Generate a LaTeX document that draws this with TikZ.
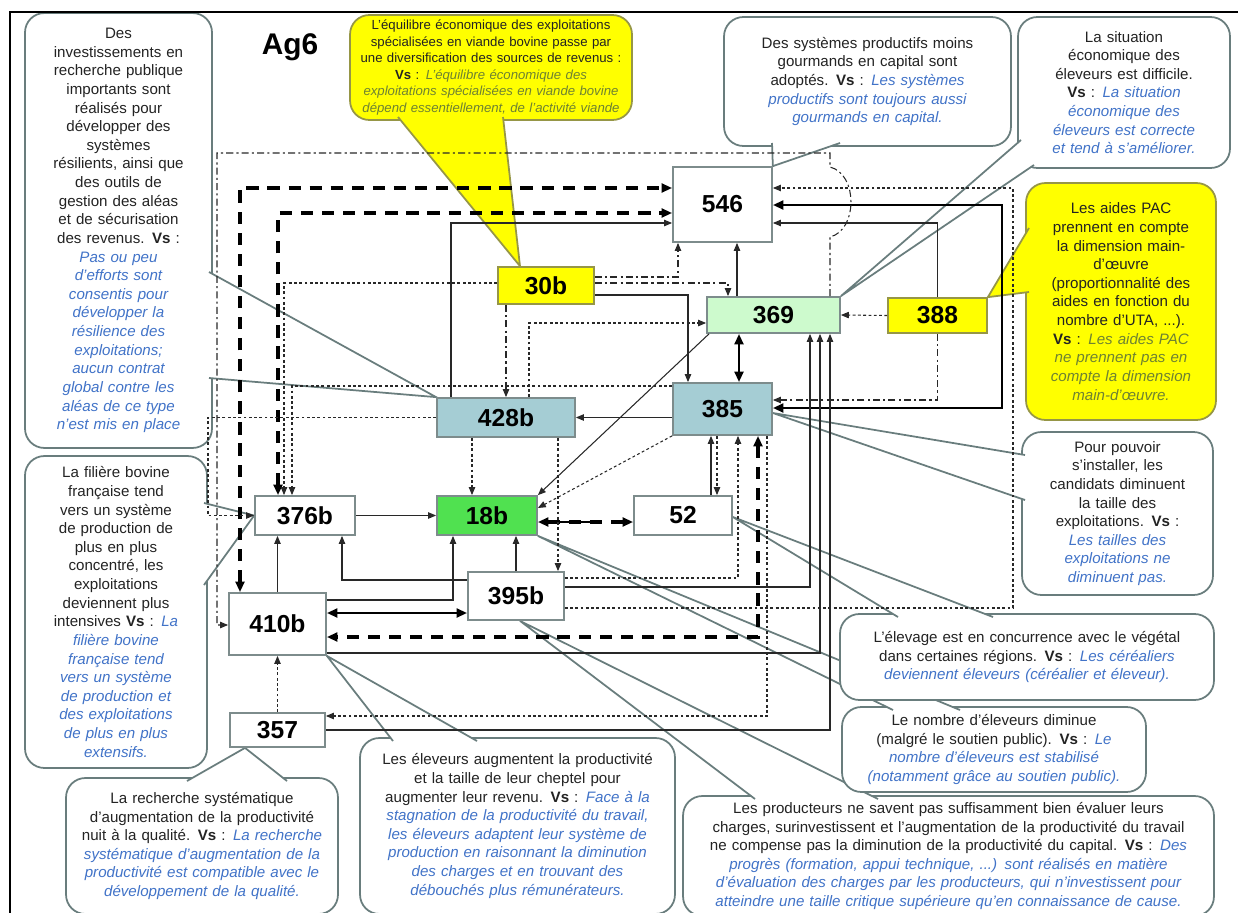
\documentclass[tikz,border=0pt]{standalone}
\usepackage{fontspec}
\setmainfont{Liberation Sans}
\usetikzlibrary{arrows.meta}
\pgfdeclarelayer{bg}
\pgfsetlayers{bg,main}

\definecolor{boxline}{RGB}{125,140,140}
\definecolor{calloutline}{RGB}{105,125,125}
\definecolor{txtgray}{RGB}{35,35,35}
\definecolor{vsblue}{RGB}{65,115,200}
\definecolor{vsolive}{RGB}{110,130,50}
\definecolor{yel}{RGB}{255,255,0}
\definecolor{yeledge}{RGB}{150,150,70}
\definecolor{lightgreen}{RGB}{205,250,205}
\definecolor{bluegray}{RGB}{165,205,212}
\definecolor{brightgreen}{RGB}{80,225,80}
\definecolor{linegray}{RGB}{40,40,40}

\newcommand\vs[1]{{\itshape\color{vsblue}#1}}
\newcommand\vsy[1]{{\itshape\color{vsolive}#1}}

\begin{document}
\begin{tikzpicture}[x=0.02cm, y=-0.02cm,
    var/.style={draw=boxline, line width=1pt, fill=white, text=black, inner sep=0pt,
        font=\fontsize{14}{16}\selectfont\bfseries},
    callout/.style={draw=calloutline, line width=1pt, fill=white, rounded corners=11pt,
        align=center, inner sep=0pt, text=txtgray, font=\fontsize{8.6}{10.6}\selectfont},
    ycallout/.style={callout, fill=yel, draw=yeledge},
    wedge/.style={draw=calloutline, line width=1pt, fill=white},
    ywedge/.style={wedge, fill=yel, draw=yeledge},
    >={Triangle[length=4.5pt,width=3.6pt]},
    link/.style={draw=linegray, line width=0.6pt, ->},
    dotlink/.style={link, dash pattern=on 1.6pt off 1.4pt},
    dashdot/.style={link, dash pattern=on 4pt off 1.8pt on 1.2pt off 1.8pt},
    boldlink/.style={draw=black, line width=1.5pt,
        {Triangle[length=6pt,width=5pt]}-{Triangle[length=6pt,width=5pt]}},
    bolddash/.style={boldlink, line width=2pt, dash pattern=on 7pt off 5pt},
]
\useasboundingbox (0,0) rectangle (1238,913);

%% frame and title
\draw[black, line width=1.2pt] (10,913) -- (10,12) -- (1238,12);
\node[font=\fontsize{17}{20}\selectfont\bfseries] (title) at (290,47) {Ag6};

%% variables
\node[var, minimum width=1.98cm, minimum height=1.5cm] (n546) at (722.5,204.5) {546};
\node[var, fill=yel, draw=yeledge, minimum width=1.92cm, minimum height=0.74cm] (n30b) at (546,285.5) {30b};
\node[var, fill=lightgreen, minimum width=2.66cm, minimum height=0.72cm] (n369) at (773.5,315) {369};
\node[var, fill=yel, draw=yeledge, minimum width=1.98cm, minimum height=0.7cm] (n388) at (937.5,315.5) {388};
\node[var, fill=bluegray, minimum width=2.76cm, minimum height=0.78cm] (n428b) at (506,417.5) {428b};
\node[var, fill=bluegray, minimum width=1.98cm, minimum height=1.04cm] (n385) at (722.5,409) {385};
\node[var, minimum width=2cm, minimum height=0.78cm] (n376b) at (305,515.5) {376b};
\node[var, fill=brightgreen, minimum width=2cm, minimum height=0.78cm] (n18b) at (487,515.5) {18b};
\node[var, minimum width=1.96cm, minimum height=0.78cm] (n52) at (683,515.5) {52};
\node[var, minimum width=1.92cm, minimum height=0.96cm] (n395b) at (516,596) {395b};
\node[var, minimum width=1.94cm, minimum height=1.24cm] (n410b) at (277.5,624) {410b};
\node[var, minimum width=1.9cm, minimum height=0.68cm] (n357) at (277.5,730) {357};

%% strong links
\draw[bolddash] (n410b.north -| 240,0) -- (240,188) -- (n546.west |- 0,188);
\draw[bolddash] (n376b.north -| 278,0) -- (278,213) -- (n546.west |- 0,213);
\draw[bolddash] (n385.south -| 758,0) -- (758,637) -- (n410b.east |- 0,637);
\draw[bolddash] (n18b.east |- 0,522) -- (n52.west |- 0,522);
\draw[black, line width=1.5pt] (545,522) -- (590,522);
\draw[boldlink] (n410b.east |- 0,613) -- (n395b.west |- 0,613);
\draw[boldlink] (n369.south -| 739,0) -- (n385.north -| 739,0);
\draw[boldlink] (n546.east |- 0,205) -- (1002,205) -- (1002,408) -- (n385.east |- 0,408);

%% plain links
\draw[link] (n428b.north -| 451,0) -- (451,223) -- (n546.west |- 0,223);
\draw[link] (n30b.east |- 0,295) -- (688,295) -- (n385.north -| 688,0);
\draw[link] (n369.north -| 737,0) -- (n546.south -| 737,0);
\draw[link] (n388.north) -- (n388.north |- 0,223) -- (n546.east |- 0,223);
\draw[link] (n385.west |- 0,417.5) -- (n428b.east);
\draw[link] (n369.south -| 709,0) -- (n18b.north east);
\draw[link] (n376b.east) -- (n18b.west);
\draw[link] (n52.north -| 711,0) -- (n385.south -| 711,0);
\draw[link] (n395b.north) -- (n18b.south -| n395b.north);
\draw[link] (n395b.west |- 0,580) -- (342,580) -- (n376b.south -| 342,0);
\draw[link] (n410b.east |- 0,600) -- (453,600) -- (n18b.south -| 453,0);
\draw[link] (n410b.north) -- (n376b.south -| n410b.north);
\draw[link] (n395b.east |- 0,587) -- (810,587) -- (n369.south -| 810,0);
\draw[link] (n410b.east |- 0,653) -- (820,653) -- (n369.south -| 820,0);
\draw[link] (n357.east) -- (830,730) -- (n369.south -| 830,0);

%% dotted links
\draw[dashdot] (n30b.south -| 506,0) -- (n428b.north -| 506,0);
\draw[dashdot] (n30b.east |- 0,277) -- (678,277) -- (n546.south -| 678,0);
\draw[dashdot] (n30b.east |- 0,283) -- (728,283) -- (n369.north -| 728,0);
\draw[dashdot] (n388.south) -- (n388.south |- 0,400) -- (n385.east |- 0,400);
\draw[dashdot] (n369.north -| 830,0) -- (830,237) .. controls (858,230) and (858,174) .. (830,167)
    -- (830,153) -- (217,153) -- (217,625) -- (n410b.west |- 0,625);
\draw[dotlink] (n428b.north -| 529,0) -- (529,323) -- (n369.west |- 0,323);
\draw[dotlink] (n30b.west |- 0,283) -- (284,283) -- (n376b.north -| 284,0);
\draw[dotlink] (n385.west |- 0,386) -- (292,386) -- (n376b.north -| 292,0);
\draw[dotlink] (n428b.west) -- (n428b.west -| 208,0) -- (n376b.west -| 208,0) -- (n376b.west);
\draw[dotlink] (n388.west) -- (n369.east);
\draw[dotlink] (n395b.east |- 0,608) -- (1013,608) -- (1013,188) -- (n546.east |- 0,188);
\draw[dotlink] (n385.south west) -- (n18b.east |- 0,508);
\draw[dotlink] (n385.south -| 717,0) -- (n52.north -| 717,0);
\draw[dotlink] (n395b.east |- 0,578) -- (738,578) -- (n385.south -| 738,0);
\draw[dotlink] (n428b.south -| 472,0) -- (n18b.north -| 472,0);
\draw[dotlink] (n428b.south -| 558,0) -- (n395b.north -| 558,0);
\draw[dotlink] (n357.north) -- (n410b.south);
\draw[dotlink] (n385.south -| 767,0) -- (767,716) -- (n357.east |- 0,716);

%% comments
\begin{pgfonlayer}{bg}
\node[callout, minimum width=3.74cm, minimum height=8.7cm, text width=3.6cm] (cinv) at (118.5,230.5)
    {Des\\ investissements en\\ recherche publique\\ importants sont\\ réalisés pour\\ développer des\\
     systèmes\\ résilients, ainsi que\\ des outils de\\ gestion des aléas\\ et de sécurisation\\
     des revenus. \textbf{Vs} :\\ \vs{Pas ou peu\\ d'efforts sont\\ consentis pour\\ développer la\\
     résilience des\\ exploitations;\\ aucun contrat\\ global contre les\\ aléas de ce type\\ n'est mis en place}};
\filldraw[wedge] (209,272) -- (n428b.north west) -- (209,378);

\node[callout, minimum width=3.64cm, minimum height=6.24cm, text width=3.5cm] (cfil) at (116,612)
    {La filière bovine\\ française tend\\ vers un système\\ de production de\\ plus en plus\\ concentré, les\\
     exploitations\\ deviennent plus\\ intensives \textbf{Vs} : \vs{La\\ filière bovine\\ française tend\\
     vers un système\\ de production et\\ des exploitations\\ de plus en plus\\ extensifs.}};
\filldraw[wedge] (204,503) -- (n376b.west) -- (204,585);

\node[callout, minimum width=5.44cm, minimum height=2.72cm, text width=5.3cm] (crech) at (202,846)
    {La recherche systématique\\ d'augmentation de la productivité\\ nuit à la qualité. \textbf{Vs} :
     \vs{La recherche\\ systématique d'augmentation de la\\ productivité est compatible avec le\\
     développement de la qualité.}};
\filldraw[wedge] (187,781) -- (n357.south -| 245,0) -- (287,781);

\node[callout, minimum width=6.3cm, minimum height=3.52cm, text width=6.1cm] (celev) at (517.5,826)
    {Les éleveurs augmentent la productivité\\ et la taille de leur cheptel pour\\ augmenter leur revenu.
     \textbf{Vs} : \vs{Face à la\\ stagnation de la productivité du travail,\\ les éleveurs adaptent leur système de\\
     production en raisonnant la diminution\\ des charges et en trouvant des\\ débouchés plus rémunérateurs.}};
\filldraw[wedge] (393,741) -- (n410b.south east) -- (477,741);

\node[callout, minimum width=10.62cm, minimum height=2.4cm, text width=10.4cm] (cprod) at (948.5,856)
    {Les producteurs ne savent pas suffisamment bien évaluer leurs\\ charges, surinvestissent et l'augmentation
     de la productivité du travail\\ ne compense pas la diminution de la productivité du capital.
     \textbf{Vs} : \vs{Des\\ progrès (formation, appui technique, ...) sont réalisés en matière\\
     d'évaluation des charges par les producteurs, qui n'investissent pour\\ atteindre une taille critique
     supérieure qu'en connaissance de cause.}};
\filldraw[wedge] (755,799) -- (n395b.south -| 520,0) -- (878,799);

\node[callout, minimum width=6.08cm, minimum height=1.7cm, text width=6cm] (cnbr) at (994,749.5)
    {Le nombre d'éleveurs diminue\\ (malgré le soutien public). \textbf{Vs} : \vs{Le\\
     nombre d'éleveurs est stabilisé\\ (notamment grâce au soutien public).}};
\filldraw[wedge] (893,710) -- (n18b.south east) -- (960,710);

\node[callout, minimum width=7.48cm, minimum height=1.72cm, text width=7.3cm] (cveg) at (1027,657)
    {L'élevage est en concurrence avec le végétal\\ dans certaines régions. \textbf{Vs} :
     \vs{Les céréaliers\\ deviennent éleveurs (céréalier et éleveur).}};
\filldraw[wedge] (898,617) -- (n52.east |- 0,517) -- (993,617);

\node[callout, minimum width=3.82cm, minimum height=3.26cm, text width=3.7cm] (cinst) at (1117.5,513.5)
    {Pour pouvoir\\ s'installer, les\\ candidats diminuent\\ la taille des\\ exploitations. \textbf{Vs} :\\
     \vs{Les tailles des\\ exploitations ne\\ diminuent pas.}};
\filldraw[wedge] (1025,455) -- (n385.east |- 0,413) -- (1025,500);

\node[ycallout, minimum width=3.8cm, minimum height=4.74cm, text width=3.7cm] (cpac) at (1121,301.5)
    {Les aides PAC\\ prennent en compte\\ la dimension main-\\ d'œuvre\\ (proportionnalité des\\
     aides en fonction du\\ nombre d'UTA, ...).\\ \textbf{Vs} : \vsy{Les aides PAC\\ ne prennent pas en\\
     compte la dimension\\ main-d'œuvre.}};
\filldraw[ywedge] (1029,228) -- (n388.north east) -- (1029,292);

\node[callout, minimum width=5.74cm, minimum height=2.58cm, text width=5.6cm] (ccap) at (867.5,81.5)
    {Des systèmes productifs moins\\ gourmands en capital sont\\ adoptés. \textbf{Vs} : \vs{Les systèmes\\
     productifs sont toujours aussi\\ gourmands en capital.}};
\filldraw[wedge] (772,143) -- (n546.north east) -- (840,143);

\node[callout, minimum width=4.24cm, minimum height=3.02cm, text width=4.1cm] (csit) at (1124,92.5)
    {La situation\\ économique des\\ éleveurs est difficile.\\ \textbf{Vs} : \vs{La situation\\
     économique des\\ éleveurs est correcte\\ et tend à s'améliorer.}};
\filldraw[wedge] (1021,140) -- (n369.north east) -- (1034,165);

\node[ycallout, minimum width=5.64cm, minimum height=2.1cm, text width=5.6cm,
      font=\fontsize{7.5}{9.4}\selectfont] (ceq) at (491,67.5)
    {L'équilibre économique des exploitations\\ spécialisées en viande bovine passe par\\
     une diversification des sources de revenus :\\ \textbf{Vs} : \vsy{L'équilibre économique des\\
     exploitations spécialisées en viande bovine\\ dépend essentiellement, de l'activité viande}};
\filldraw[ywedge] (398,117) -- (n30b.north -| 520,0) -- (503,117);
\end{pgfonlayer}

\end{tikzpicture}
\end{document}
